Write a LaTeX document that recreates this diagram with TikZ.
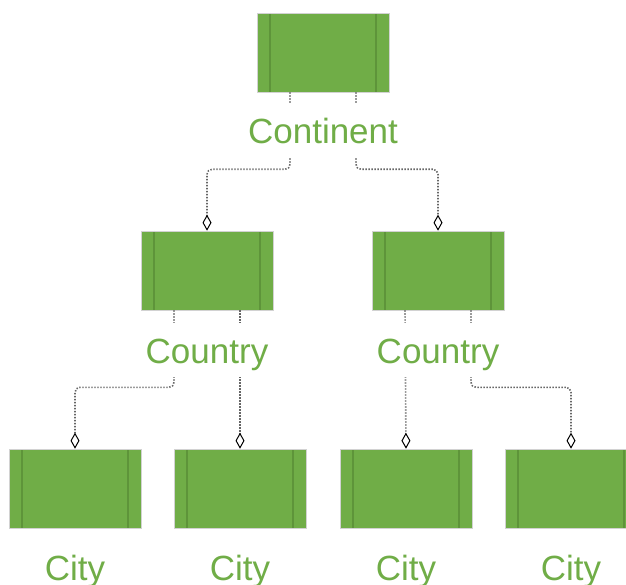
\documentclass[tikz,border=0pt]{standalone}
\usepackage{fontspec}
\setmainfont{Liberation Sans}
\usetikzlibrary{arrows.meta}
\definecolor{boxgreen}{HTML}{70AD47}
\definecolor{darkgreen}{HTML}{5E943A}
\definecolor{dotgrey}{HTML}{666666}
\tikzset{
  greenbox/.style={rectangle, minimum width=132pt, minimum height=79pt, inner sep=0pt,
    fill=boxgreen, draw=gray!35, line width=0.6pt,
    path picture={
      \draw[darkgreen, line width=1.4pt]
        ([xshift=13pt]path picture bounding box.north west) -- ([xshift=13pt]path picture bounding box.south west)
        ([xshift=-13pt]path picture bounding box.north east) -- ([xshift=-13pt]path picture bounding box.south east);
    }},
  lbl/.style={anchor=base, inner sep=0pt, text=boxgreen, fill=white,
    font=\fontsize{35}{40}\selectfont, text height=40pt, text depth=14pt},
  conn/.style={dotgrey, line width=1.6pt, dash pattern=on 1.4pt off 1.6pt, rounded corners=5pt,
    -{Diamond[open, length=16pt, width=9pt, line width=1pt, black, fill=white, sep=0pt]}},
}
\begin{document}
\begin{tikzpicture}[x=1pt,y=-1pt]
\path[use as bounding box] (0,0) rectangle (626,585);
% boxes
\node[greenbox] (cont) at (323,52.5) {};
\node[greenbox] (cL) at (207,270.5) {};
\node[greenbox] (cR) at (438,270.5) {};
\node[greenbox] (c1) at (75,488.5) {};
\node[greenbox] (c2) at (240,488.5) {};
\node[greenbox] (c3) at (406,488.5) {};
\node[greenbox] (c4) at (571,488.5) {};
% connectors
\draw[conn] ([xshift=-33pt]cont.south) -- ++(0,77) -| (cL.north);
\draw[conn] ([xshift=33pt]cont.south) -- ++(0,77) -| (cR.north);
\draw[conn] ([xshift=-33pt]cL.south) -- ++(0,77) -| (c1.north);
\draw[conn] ([xshift=33pt]cL.south) -- (c2.north);
\draw[conn] ([xshift=-33pt]cR.south) -- (c3.north);
\draw[conn] ([xshift=33pt]cR.south) -- ++(0,77) -| (c4.north);
% labels
\node[lbl] (tcont) at (323,144) {Continent};
\node[lbl] (tcL) at (207,363) {Country};
\node[lbl] (tcR) at (438,363) {Country};
\node[lbl, fill=none] (t1) at (75,580) {City};
\node[lbl, fill=none] (t2) at (240,580) {City};
\node[lbl, fill=none] (t3) at (406,580) {City};
\node[lbl, fill=none] (t4) at (571,580) {City};
\end{tikzpicture}
\end{document}
